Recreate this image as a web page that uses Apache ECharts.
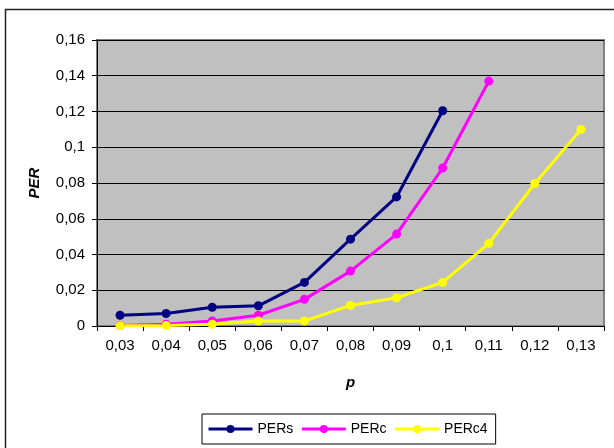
<!DOCTYPE html>
<html>
<head>
<meta charset="utf-8">
<script src="https://cdn.jsdelivr.net/npm/echarts@6/dist/echarts.min.js"></script>
<style>
html,body{margin:0;padding:0;background:#fff;}
#chart{width:614px;height:448px;}
</style>
</head>
<body>
<div id="chart"></div>
<script>
var categories = ['0,03','0,04','0,05','0,06','0,07','0,08','0,09','0,1','0,11','0,12','0,13'];
var PERs  = [0.006, 0.007, 0.0105, 0.0113, 0.0244, 0.0486, 0.0722, 0.1204, null, null, null];
var PERc  = [0.0003, 0.001, 0.0028, 0.006, 0.0149, 0.0307, 0.0514, 0.0884, 0.137, null, null];
var PERc4 = [0.0002, 0.0003, 0.001, 0.0028, 0.0028, 0.0115, 0.0158, 0.0244, 0.0462, 0.0797, 0.110];

var font = 'Arial, "Liberation Sans", sans-serif';
function mk(name, data, color) {
  return {
    name: name, type: 'line', data: data,
    symbol: 'circle', symbolSize: 9,
    lineStyle: {color: color, width: 3},
    itemStyle: {color: color},
    connectNulls: false,
    animation: false
  };
}
var chart = echarts.init(document.getElementById('chart'), null, {renderer: 'canvas'});
chart.setOption({
  animation: false,
  backgroundColor: '#fff',
  graphic: [{
    type: 'rect', silent: true,
    shape: {x: 5.5, y: 9.5, width: 640, height: 460},
    style: {fill: 'none', stroke: '#222', lineWidth: 1.5}
  }],
  grid: {
    left: 97, top: 40, right: 10, bottom: 122,
    show: true, backgroundColor: '#C0C0C0', borderColor: '#808080', borderWidth: 2
  },
  legend: {
    left: 202, top: 414,
    itemWidth: 44, itemHeight: 10, itemGap: 7,
    padding: [8, 8, 8, 5],
    borderColor: '#000', borderWidth: 1, backgroundColor: '#fff',
    lineStyle: {width: 3},
    textStyle: {fontFamily: font, fontSize: 14, color: '#000'},
    data: ['PERs','PERc','PERc4']
  },
  xAxis: {
    type: 'category', data: categories, boundaryGap: true,
    name: 'p', nameLocation: 'middle', nameGap: 49,
    nameTextStyle: {fontFamily: font, fontSize: 15, fontWeight: 'bold', fontStyle: 'italic', color: '#000'},
    axisLine: {lineStyle: {color: '#000', width: 1}},
    axisTick: {show: true, inside: false, length: 5, alignWithLabel: false, lineStyle: {color: '#000'}},
    axisLabel: {fontFamily: font, fontSize: 15, color: '#000', margin: 12, interval: 0},
    splitLine: {show: false}
  },
  yAxis: {
    type: 'value', min: 0, max: 0.16, interval: 0.02,
    name: 'PER', nameLocation: 'middle', nameGap: 55,
    nameTextStyle: {fontFamily: font, fontSize: 15, fontWeight: 'bold', fontStyle: 'italic', color: '#000'},
    axisLine: {show: true, lineStyle: {color: '#000', width: 1}},
    axisTick: {show: true, length: 5, lineStyle: {color: '#000'}},
    axisLabel: {fontFamily: font, fontSize: 15, color: '#000', margin: 12,
      formatter: function (v) { return String(parseFloat(v.toFixed(2))).replace('.', ','); }},
    splitLine: {show: true, lineStyle: {color: '#000', width: 1}}
  },
  series: [mk('PERs', PERs, '#000080'), mk('PERc', PERc, '#FF00FF'), mk('PERc4', PERc4, '#FFFF00')]
});
</script>
</body>
</html>
